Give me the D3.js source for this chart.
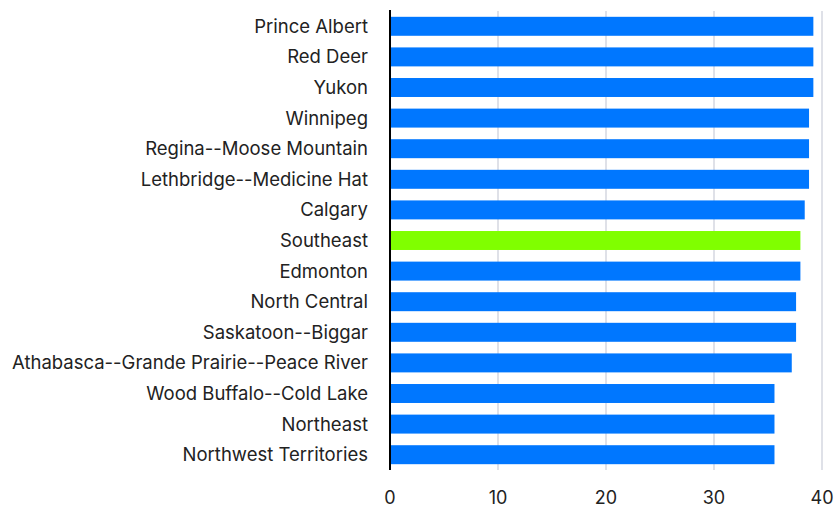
<!DOCTYPE html>
<html>
<head>
<meta charset="utf-8">
<script src="https://cdn.jsdelivr.net/npm/d3@7"></script>
<style>
  body { margin: 0; background: #fff; }
  text { font-family: Inter, "Noto Sans", sans-serif; }
</style>
</head>
<body>
<div id="chart"></div>
<script>
const regions = [
  "Prince Albert", "Red Deer", "Yukon", "Winnipeg", "Regina--Moose Mountain",
  "Lethbridge--Medicine Hat", "Calgary", "Southeast", "Edmonton", "North Central",
  "Saskatoon--Biggar", "Athabasca--Grande Prairie--Peace River",
  "Wood Buffalo--Cold Lake", "Northeast", "Northwest Territories"
];
const values = [39.2, 39.2, 39.2, 38.8, 38.8, 38.8, 38.4, 38.0, 38.0, 37.6, 37.6, 37.2, 35.6, 35.6, 35.6];
const highlight = "Southeast";
const xTicks = [0, 10, 20, 30, 40];

const data = regions.map((r, i) => ({ region: r, value: values[i] }));

const W = 834, H = 510;
const margin = { top: 11, right: 12, bottom: 40, left: 390 };
const width = W - margin.left - margin.right;
const height = H - margin.top - margin.bottom;

const svg = d3.select("#chart").append("svg")
  .attr("width", W)
  .attr("height", H);

const g = svg.append("g").attr("transform", `translate(${margin.left},${margin.top})`);

const x = d3.scaleLinear().domain([0, 40]).range([0, width]);
const y = d3.scaleBand().domain(regions).range([0, height]).paddingInner(0.38).paddingOuter(0.19);

// gridlines
g.selectAll(".grid")
  .data(xTicks.slice(1))
  .join("line")
  .attr("x1", d => x(d)).attr("x2", d => x(d))
  .attr("y1", 0).attr("y2", height)
  .attr("stroke", "#dfe1e8")
  .attr("stroke-width", 2);

// bars
g.selectAll(".bar")
  .data(data)
  .join("rect")
  .attr("x", x(0))
  .attr("y", d => y(d.region))
  .attr("width", d => x(d.value) - x(0))
  .attr("height", y.bandwidth())
  .attr("fill", d => d.region === highlight ? "#80ff00" : "#0077ff");

// category labels
g.selectAll(".lab")
  .data(regions)
  .join("text")
  .attr("x", -22)
  .attr("y", d => y(d) + y.bandwidth() / 2)
  .attr("dy", "0.35em")
  .attr("text-anchor", "end")
  .style("font-size", "18.5px")
  .style("fill", "#222")
  .text(d => d);

// y axis line
g.append("line")
  .attr("x1", x(0)).attr("x2", x(0))
  .attr("y1", -1).attr("y2", height)
  .attr("stroke", "#000")
  .attr("stroke-width", 2);

// x tick labels
g.selectAll(".tick")
  .data(xTicks)
  .join("text")
  .attr("x", d => x(d))
  .attr("y", height + 28)
  .attr("dy", "0.35em")
  .attr("text-anchor", "middle")
  .style("font-size", "18px")
  .style("fill", "#222")
  .text(d => d);
</script>
</body>
</html>
